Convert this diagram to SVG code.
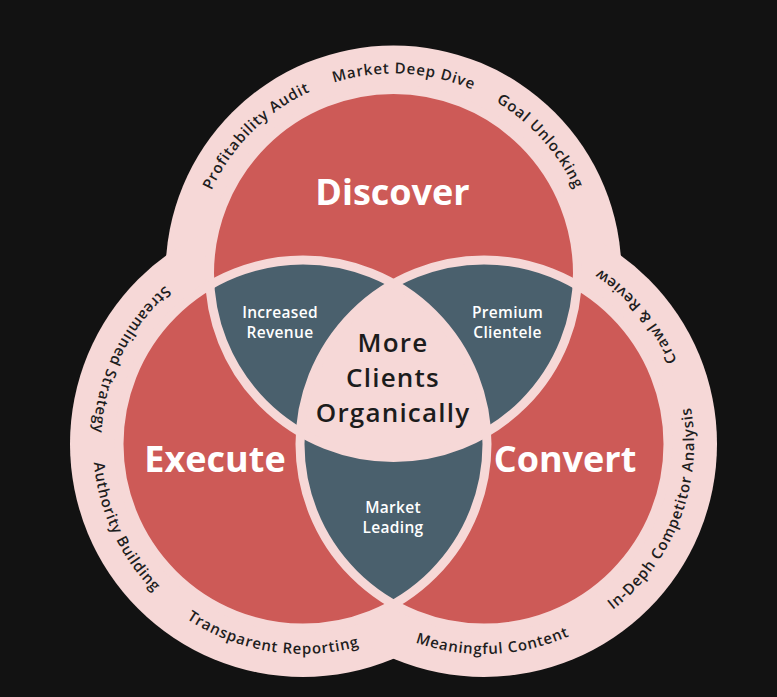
<svg xmlns="http://www.w3.org/2000/svg" width="777" height="697" viewBox="0 0 777 697">
<defs>
<style>
.bg{fill:#121212}
.ring{fill:#f6d8d7}
.red{fill:#cd5a57}
.blue{fill:#4a606d}
.pink{fill:#f6d8d7}
.gap{fill:none;stroke:#f6d8d7;stroke-width:9}
.big{font-family:'Open Sans','Liberation Sans',sans-serif;font-weight:700;font-size:36px;fill:#ffffff;text-anchor:middle}
.mid{font-family:'Open Sans','Liberation Sans',sans-serif;font-weight:600;font-size:15.5px;fill:#ffffff;text-anchor:middle;letter-spacing:0.3px}
.core{font-family:'Open Sans','Liberation Sans',sans-serif;font-weight:600;font-size:26px;fill:#1c1c1c;text-anchor:middle;letter-spacing:1.2px}
.arc{font-family:'Open Sans','Liberation Sans',sans-serif;font-weight:600;font-size:15px;fill:#1e1e1e;letter-spacing:0.8px;text-anchor:middle}
</style>
<clipPath id="cD"><circle cx="393.5" cy="273.5" r="184"/></clipPath>
<clipPath id="cE"><circle cx="303" cy="444" r="184"/></clipPath>
<clipPath id="cC"><circle cx="484" cy="444" r="184"/></clipPath>
<path id="p1" d="M212.2,358.0 A200,200 0 0 1 478.0,92.2"/>
<path id="p2" d="M209.4,195.4 A200,200 0 0 1 584.8,215.0"/>
<path id="p3" d="M318.6,88.1 A200,200 0 0 1 570.1,367.4"/>
<path id="p4" d="M324.9,235.2 A210,210 0 0 0 151.9,589.9"/>
<path id="p5" d="M154.5,295.5 A210,210 0 0 0 321.3,653.2"/>
<path id="p6" d="M96.9,484.1 A210,210 0 0 0 486.7,545.8"/>
<path id="p7" d="M290.0,524.4 A210,210 0 0 0 684.3,507.2"/>
<path id="p8" d="M480.3,654.0 A210,210 0 0 0 621.8,285.5"/>
<path id="p9" d="M665.9,549.0 A210,210 0 0 0 412.2,246.7"/>
</defs>
<rect class="bg" x="0" y="0" width="777" height="697"/>
<g id="outer-ring">
<circle class="ring" cx="393.5" cy="273.5" r="228"/>
<circle class="ring" cx="303" cy="444" r="233"/>
<circle class="ring" cx="484" cy="444" r="233"/>
</g>
<g id="discover">
<circle class="red" cx="393.5" cy="273.5" r="184"/>
</g>
<g id="execute">
<circle class="red" cx="303" cy="444" r="184"/>
</g>
<g id="convert">
<circle class="red" cx="484" cy="444" r="184"/>
</g>
<g id="increased-revenue">
<circle class="blue" cx="303" cy="444" r="184" clip-path="url(#cD)"/>
</g>
<g id="premium-clientele">
<circle class="blue" cx="484" cy="444" r="184" clip-path="url(#cD)"/>
</g>
<g id="market-leading">
<circle class="blue" cx="484" cy="444" r="184" clip-path="url(#cE)"/>
</g>
<g id="more-clients-organically">
<g clip-path="url(#cD)"><circle class="pink" cx="484" cy="444" r="184" clip-path="url(#cE)"/></g>
</g>
<g id="gaps">
<circle class="gap" cx="393.5" cy="273.5" r="184"/>
<circle class="gap" cx="303" cy="444" r="184"/>
<circle class="gap" cx="484" cy="444" r="184"/>
</g>
<g id="connectors"></g>
<g id="labels-main">
<text class="big" x="392.5" y="205">Discover</text>
<text class="big" x="215" y="472">Execute</text>
<text class="big" x="565" y="472">Convert</text>
</g>
<g id="labels-overlap">
<text class="mid" x="280" y="318">Increased</text>
<text class="mid" x="280" y="338">Revenue</text>
<text class="mid" x="507.5" y="318">Premium</text>
<text class="mid" x="507.5" y="338">Clientele</text>
<text class="mid" x="393" y="513">Market</text>
<text class="mid" x="393" y="533">Leading</text>
</g>
<g id="label-core">
<text class="core" x="393" y="352">More</text>
<text class="core" x="393" y="387">Clients</text>
<text class="core" x="393" y="422">Organically</text>
</g>
<g id="ring-labels">
<g id="profitability-audit"><text class="arc"><textPath href="#p1" startOffset="50%">Profitability Audit</textPath></text></g>
<g id="market-deep-dive"><text class="arc"><textPath href="#p2" startOffset="50%">Market Deep Dive</textPath></text></g>
<g id="goal-unlocking"><text class="arc"><textPath href="#p3" startOffset="50%">Goal Unlocking</textPath></text></g>
<g id="streamlined-strategy"><text class="arc"><textPath href="#p4" startOffset="50%">Streamlined Strategy</textPath></text></g>
<g id="authority-building"><text class="arc"><textPath href="#p5" startOffset="50%">Authority Building</textPath></text></g>
<g id="transparent-reporting"><text class="arc"><textPath href="#p6" startOffset="50%">Transparent Reporting</textPath></text></g>
<g id="meaningful-content"><text class="arc"><textPath href="#p7" startOffset="50%">Meaningful Content</textPath></text></g>
<g id="in-depth-competitor-analysis"><text class="arc"><textPath href="#p8" startOffset="50%">In-Deph Competitor Analysis</textPath></text></g>
<g id="crawl-review"><text class="arc"><textPath href="#p9" startOffset="50%">Crawl &amp; Review</textPath></text></g>
</g>
</svg>
